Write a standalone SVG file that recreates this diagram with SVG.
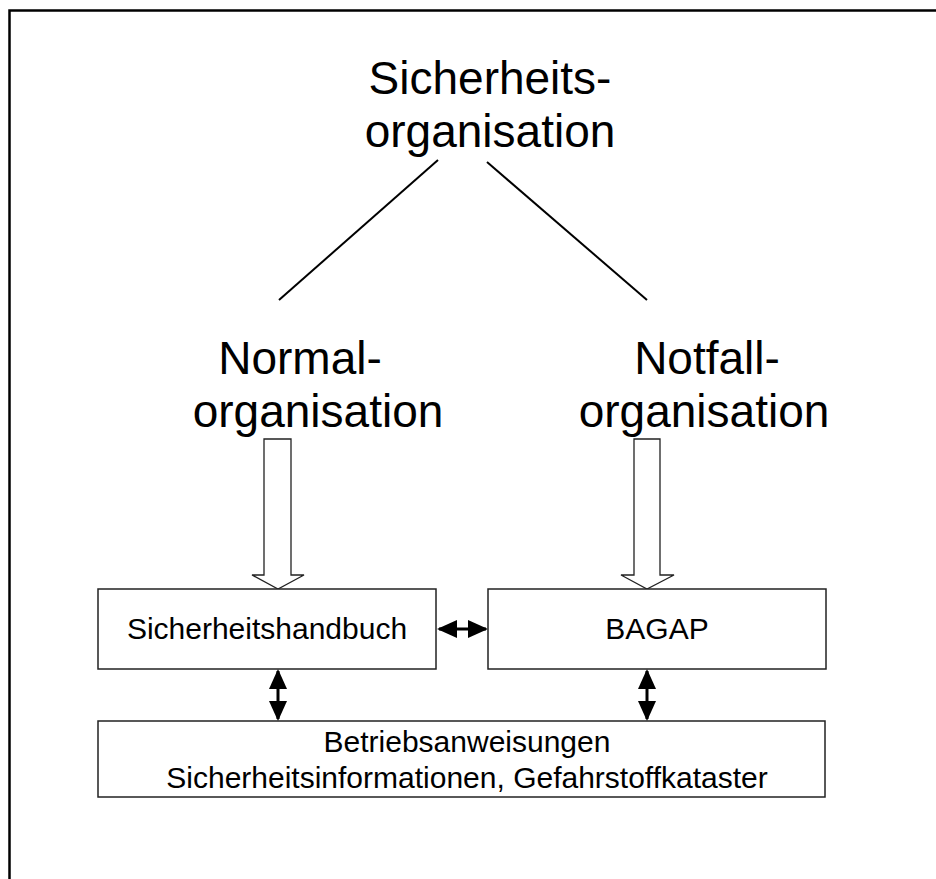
<svg xmlns="http://www.w3.org/2000/svg" width="936" height="879" viewBox="0 0 936 879">
<defs>
<marker id="head" markerUnits="userSpaceOnUse" markerWidth="20" markerHeight="18" refX="18" refY="9" orient="auto-start-reverse" viewBox="0 0 20 18">
<path d="M0,0 L20,9 L0,18 Z" fill="#000"/>
</marker>
<style>
.big{font-family:"Liberation Sans",Arial,sans-serif;font-size:46px;fill:#000;text-anchor:middle}
.lbl{font-family:"Liberation Sans",Arial,sans-serif;font-size:30px;fill:#000;text-anchor:middle}
.box{fill:#fff;stroke:#222;stroke-width:1.5}
.hollow{fill:#fff;stroke:#222;stroke-width:1.3}
.dbl{stroke:#000;stroke-width:3;fill:none;marker-start:url(#head);marker-end:url(#head)}
.line{stroke:#000;stroke-width:2;fill:none}
</style>
</defs>
<rect width="936" height="879" fill="#fff"/>
<rect x="9.5" y="10.5" width="960" height="900" fill="none" stroke="#000" stroke-width="2.5"/>

<g id="title">
<text class="big" x="490" y="94">Sicherheits-</text>
<text class="big" x="490" y="147">organisation</text>
</g>
<g id="normal">
<text class="big" x="300" y="374">Normal-</text>
<text class="big" x="318" y="427">organisation</text>
</g>
<g id="notfall">
<text class="big" x="707" y="374">Notfall-</text>
<text class="big" x="704" y="427">organisation</text>
</g>

<g id="connectors">
<line class="line" x1="438" y1="160" x2="279" y2="300"/>
<line class="line" x1="487" y1="162" x2="647" y2="300"/>
<polygon class="hollow" points="264,439 291,439 291,575 304,575 278,589 252,575 264,575"/>
<polygon class="hollow" points="634,439 660,439 660,575 674,575 647,589 621,575 634,575"/>
<line class="dbl" x1="439" y1="629" x2="486" y2="629"/>
<line class="dbl" x1="278" y1="671" x2="278" y2="719"/>
<line class="dbl" x1="647" y1="671" x2="647" y2="719"/>
</g>

<g id="sicherheitshandbuch">
<rect class="box" x="98" y="589" width="338" height="80"/>
<text class="lbl" x="267" y="639">Sicherheitshandbuch</text>
</g>
<g id="bagap">
<rect class="box" x="488" y="589" width="338" height="80"/>
<text class="lbl" x="657" y="639">BAGAP</text>
</g>
<g id="betriebsanweisungen">
<rect class="box" x="98" y="721" width="727" height="76"/>
<text class="lbl" x="467" y="752">Betriebsanweisungen</text>
<text class="lbl" x="467" y="788">Sicherheitsinformationen, Gefahrstoffkataster</text>
</g>
</svg>
